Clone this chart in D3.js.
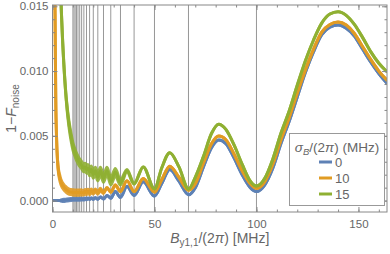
<!DOCTYPE html>
<html>
<head>
<meta charset="utf-8">
<script src="https://cdn.jsdelivr.net/npm/d3@7"></script>
<style>
body { margin: 0; background: #fff; }
svg text { font-family: "Liberation Sans", Arial, sans-serif; fill: #666; }
</style>
</head>
<body>
<div id="chart"></div>
<script>
// field values B_y1,1/(2pi) in MHz (shared by the three series)
var fieldB = [0, 1.0, 1.3, 1.6, 2.0, 2.5, 3.0, 3.5, 4.0, 4.5,
	5.0, 5.5, 6.0, 6.5, 7.0, 8.0, 9.0, 10, 11, 12,
	13, 14, 15.4, 16, 16.7, 17.4, 18.2, 19, 20, 21,
	22.2, 23.5, 25, 26.7, 28.6, 30.8, 33.3, 36.5, 40, 44.5,
	50, 53.5, 57.5, 62, 66.7, 70, 74, 78, 81.5, 85,
	89, 93, 97, 100, 104, 108, 112, 116, 120, 124,
	128, 132, 136, 140, 144, 148, 152, 156, 160, 164];

// 1 - F_noise for sigma_B/(2pi) = 0, 10, 15 MHz
var infid0 = [0, 0, 0, 0, 0, 0, 0, 0, 0, 0.00001,
	0.00001, 0.00002, 0.00002, 0.00003, 0.00004, 0.00006, 0.00008, 0.0001, 0.0001, 0.00011,
	0.00011, 0.00012, 0.0001, 0.00016, 0.0001, 0.00018, 0.0001, 0.0002, 0.0001, 0.00022,
	0.0001, 0.00028, 0.00012, 0.0004, 0.00018, 0.0007, 0.00025, 0.0011, 0.0004, 0.00145,
	0.00035, 0.0013, 0.0024, 0.0015, 0.00045, 0.001, 0.0026, 0.0041, 0.00467, 0.0044,
	0.0033, 0.002, 0.001, 0.0007, 0.0012, 0.0025, 0.0044, 0.0061, 0.008, 0.0099,
	0.0115, 0.0128, 0.0134, 0.01355, 0.0133, 0.0127, 0.0117, 0.0107, 0.0098, 0.00905];

var infid10 = [0.04, 0.019, 0.0135, 0.0078, 0.0048, 0.003, 0.0022, 0.0018, 0.0015, 0.0013,
	0.00115, 0.00105, 0.00095, 0.00088, 0.0008, 0.0007, 0.00066, 0.00063, 0.00062, 0.00062,
	0.00062, 0.00063, 0.0006, 0.0007, 0.0006, 0.00072, 0.0006, 0.00075, 0.0006, 0.0008,
	0.0006, 0.00085, 0.0006, 0.001, 0.00065, 0.0012, 0.0007, 0.00153, 0.0007, 0.0017,
	0.00065, 0.0016, 0.00266, 0.0018, 0.0008, 0.0013, 0.0029, 0.0044, 0.00498, 0.0047,
	0.0036, 0.0023, 0.0013, 0.00094, 0.00145, 0.0028, 0.0047, 0.0064, 0.0083, 0.0101,
	0.0117, 0.013, 0.0136, 0.01378, 0.01355, 0.0129, 0.0119, 0.0109, 0.01, 0.0093];

var infid15 = [0.06, 0.05, 0.045, 0.04, 0.034, 0.028, 0.023, 0.0195, 0.0162, 0.014,
	0.0122, 0.0107, 0.0094, 0.0083, 0.0074, 0.006, 0.005, 0.0042, 0.0037, 0.0033,
	0.003, 0.0028, 0.0025, 0.0026, 0.0024, 0.0025, 0.0022, 0.0024, 0.002, 0.0023,
	0.0018, 0.0023, 0.0017, 0.0023, 0.0015, 0.0022, 0.0014, 0.0023, 0.0013, 0.0026,
	0.0009, 0.0025, 0.0037, 0.0026, 0.0009, 0.0018, 0.0034, 0.0052, 0.0059, 0.0055,
	0.0043, 0.0028, 0.0015, 0.00112, 0.0017, 0.0032, 0.0052, 0.0069, 0.0089, 0.0108,
	0.0124, 0.0137, 0.0144, 0.01458, 0.0143, 0.0136, 0.0126, 0.0115, 0.0106, 0.00995];

// half width of the noisy band seen on each curve
var noise0 = [0, 0, 0, 0, 0, 0, 0, 0, 0.00004, 0.00006,
	0.00008, 0.00008, 0.00008, 0.00008, 0.00008, 0.00008, 0.00008, 0.00008, 0.00008, 0.00008,
	0.00008, 0.00008, 0.00006, 0.00005, 0.00004, 0.00003, 0.00002, 0.00001, 0, 0,
	0, 0, 0, 0, 0, 0, 0, 0, 0, 0,
	0, 0, 0, 0, 0, 0, 0, 0, 0, 0,
	0, 0, 0, 0, 0, 0, 0, 0, 0, 0,
	0, 0, 0, 0, 0, 0, 0, 0, 0, 0];

var noise10 = [0, 0, 0, 0, 0, 0.0001, 0.00016, 0.0002, 0.0002, 0.0002,
	0.0002, 0.0002, 0.0002, 0.0002, 0.0002, 0.0002, 0.0002, 0.0002, 0.0002, 0.0002,
	0.0002, 0.0002, 0.00015, 0.00015, 0.00015, 0.00015, 0.00015, 0.00015, 0.0001, 0.0001,
	0.0001, 0.0001, 0.00005, 0.00002, 0, 0, 0, 0, 0, 0,
	0, 0, 0, 0, 0, 0, 0, 0, 0, 0,
	0, 0, 0, 0, 0, 0, 0, 0, 0, 0,
	0, 0, 0, 0, 0, 0, 0, 0, 0, 0];

var noise15 = [0, 0, 0, 0, 0, 0, 0, 0, 0.00008, 0.00008,
	0.00008, 0.00008, 0.00008, 0.00008, 0.00015, 0.00022, 0.00028, 0.00028, 0.00028, 0.00028,
	0.00028, 0.00028, 0.00028, 0.00028, 0.00028, 0.00028, 0.00028, 0.00028, 0.00028, 0.00028,
	0.00028, 0.00028, 0.00028, 0.00028, 0.00028, 0.00028, 0.0002, 0.0001, 0.00003, 0,
	0, 0, 0, 0, 0, 0, 0, 0, 0, 0,
	0, 0, 0, 0, 0, 0, 0, 0, 0, 0,
	0, 0, 0, 0, 0, 0, 0, 0, 0, 0];

var sigmaLabels = ["0", "10", "15"];
var colors = ["#5e81b5", "#e19c24", "#8fb032"];

// resonance positions drawn as grid lines
var gridB = [100, 66.67, 50, 40, 33.33, 28.57, 25, 22.22, 20, 18.18,
	16.67, 15.38, 14.29, 13.33, 12.5, 11.76, 11.11, 10.53, 10];

var xTicks = [0, 50, 100, 150];
var yTicks = [0, 0.005, 0.010, 0.015];

var margin = {top: 5, right: 3, bottom: 42, left: 52.5};
var width = 390 - margin.left - margin.right,
	height = 254 - margin.top - margin.bottom;

var root = d3.select("#chart")
	.append("svg")
	.attr("width", 390)
	.attr("height", 254);

var svg = root.append("g")
	.attr("transform", "translate(" + margin.left + "," + margin.top + ")");

var x = d3.scaleLinear().domain([0, 164]).range([0, width]);
var y = d3.scaleLinear().domain([-0.00088, 0.0151]).range([height, 0]);

svg.append("clipPath").attr("id", "clip")
	.append("rect").attr("width", width).attr("height", height);

// grid lines
svg.append("g")
	.selectAll("line")
	.data(gridB)
	.enter().append("line")
	.attr("x1", function(d){ return x(d); })
	.attr("x2", function(d){ return x(d); })
	.attr("y1", 0)
	.attr("y2", height)
	.attr("stroke", "#999")
	.attr("stroke-width", 1);

var series = [
	{vals: infid0, noise: noise0},
	{vals: infid10, noise: noise10},
	{vals: infid15, noise: noise15}
];

var plot = svg.append("g").attr("clip-path", "url(#clip)");

series.forEach(function(s, k){
	var band = d3.area()
		.x(function(i){ return x(fieldB[i]); })
		.y0(function(i){ return y(s.vals[i] - s.noise[i]); })
		.y1(function(i){ return y(s.vals[i] + s.noise[i]); })
		.curve(d3.curveMonotoneX);
	var line = d3.line()
		.x(function(d, i){ return x(fieldB[i]); })
		.y(function(d){ return y(d); })
		.curve(d3.curveMonotoneX);

	plot.append("path")
		.datum(d3.range(fieldB.length))
		.attr("d", band)
		.attr("fill", colors[k])
		.attr("stroke", colors[k])
		.attr("stroke-width", 3)
		.attr("stroke-linejoin", "round")
		.attr("opacity", 0.9);

	plot.append("path")
		.datum(s.vals)
		.attr("d", line)
		.attr("fill", "none")
		.attr("stroke", colors[k])
		.attr("stroke-width", 3);
});

// frame with inward ticks on all four sides
function styleAxis(g){
	g.select(".domain").remove();
	g.selectAll("line").attr("stroke", "#888");
	g.selectAll("text").style("font-size", "11.5px").attr("fill", "#666");
}

svg.append("g")
	.attr("transform", "translate(0," + height + ")")
	.call(d3.axisBottom(x).tickValues(d3.range(0, 170, 10)).tickSize(-2.5).tickFormat(""))
	.call(styleAxis);
svg.append("g")
	.attr("transform", "translate(0," + height + ")")
	.call(d3.axisBottom(x).tickValues(xTicks).tickSize(-5).tickPadding(8).tickFormat(d3.format("d")))
	.call(styleAxis);
svg.append("g")
	.call(d3.axisTop(x).tickValues(d3.range(0, 170, 10)).tickSize(-2.5).tickFormat(""))
	.call(styleAxis);
svg.append("g")
	.call(d3.axisTop(x).tickValues(xTicks).tickSize(-5).tickFormat(""))
	.call(styleAxis);

svg.append("g")
	.call(d3.axisLeft(y).tickValues(d3.range(0, 0.0155, 0.001)).tickSize(-2.5).tickFormat(""))
	.call(styleAxis);
svg.append("g")
	.call(d3.axisLeft(y).tickValues(yTicks).tickSize(-5).tickPadding(4).tickFormat(d3.format(".3f")))
	.call(styleAxis);
svg.append("g")
	.attr("transform", "translate(" + width + ",0)")
	.call(d3.axisRight(y).tickValues(d3.range(0, 0.0155, 0.001)).tickSize(-2.5).tickFormat(""))
	.call(styleAxis);
svg.append("g")
	.attr("transform", "translate(" + width + ",0)")
	.call(d3.axisRight(y).tickValues(yTicks).tickSize(-5).tickFormat(""))
	.call(styleAxis);

svg.append("rect")
	.attr("width", width)
	.attr("height", height)
	.attr("fill", "none")
	.attr("stroke", "#888")
	.attr("stroke-width", 1);

// axis titles
var xt = root.append("text")
	.attr("x", margin.left + width / 2)
	.attr("y", 243)
	.attr("text-anchor", "middle")
	.style("font-size", "14px");
xt.append("tspan").attr("font-style", "italic").text("B");
xt.append("tspan").attr("dy", 3).style("font-size", "10px").text("y1,1");
xt.append("tspan").attr("dy", -3).text("/(2");
xt.append("tspan").attr("font-style", "italic").text("π");
xt.append("tspan").text(") [MHz]");

var yt = root.append("text")
	.attr("transform", "translate(16," + (margin.top + height / 2) + ") rotate(-90)")
	.attr("text-anchor", "middle")
	.style("font-size", "14px");
yt.append("tspan").text("1\u2212");
yt.append("tspan").attr("font-style", "italic").text("F");
yt.append("tspan").attr("dy", 3).style("font-size", "10px").text("noise");

// legend
var lg = root.append("g");
lg.append("rect")
	.attr("x", 289.5).attr("y", 133.5)
	.attr("width", 95).attr("height", 72)
	.attr("fill", "#fff")
	.attr("stroke", "#999");

var lt = lg.append("text")
	.attr("x", 337).attr("y", 152)
	.attr("text-anchor", "middle")
	.style("font-size", "13.5px")
	.attr("fill", "#444");
lt.append("tspan").attr("font-style", "italic").text("σ");
lt.append("tspan").attr("dy", 3).attr("font-style", "italic").style("font-size", "9.5px").text("B");
lt.append("tspan").attr("dy", -3).text("/(2");
lt.append("tspan").attr("font-style", "italic").text("π");
lt.append("tspan").text(") (MHz)");

var entries = lg.selectAll(".entry")
	.data(sigmaLabels)
	.enter().append("g")
	.attr("class", "entry")
	.attr("transform", function(d, i){ return "translate(0," + (162 + i * 16) + ")"; });
entries.append("line")
	.attr("x1", 319).attr("x2", 332)
	.attr("stroke", function(d, i){ return colors[i]; })
	.attr("stroke-width", 3);
entries.append("text")
	.attr("x", 335).attr("y", 5)
	.style("font-size", "13px")
	.attr("fill", "#444")
	.text(function(d){ return d; });
</script>
</body>
</html>
